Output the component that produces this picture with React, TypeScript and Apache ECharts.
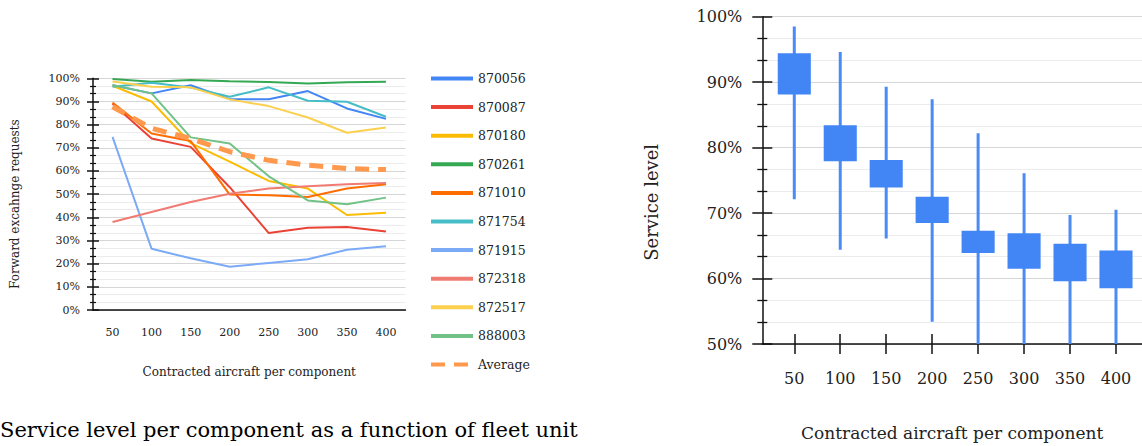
import React, { useEffect, useRef } from "react";
import * as echarts from "echarts";

const fleetSizes = [50, 100, 150, 200, 250, 300, 350, 400];
const fleetLabels = fleetSizes.map(String);

const componentNames = ["870056", "870087", "870180", "870261", "871010", "871754", "871915", "872318", "872517", "888003"];
const componentColors = ["#4285F4", "#EA4335", "#FBBC04", "#34A853", "#FF6D01", "#46BDC6", "#7BAAF7", "#F07B72", "#FCD04F", "#71C287"];

const s870056 = [97, 93.5, 97, 91, 91, 94.5, 87, 82.5];
const s870087 = [89, 74, 70.4, 53, 33.2, 35.5, 35.8, 33.9];
const s870180 = [96.8, 90, 72, 64, 55.7, 52.4, 41, 42];
const s870261 = [99.7, 98.5, 99.3, 98.7, 98.4, 97.8, 98.3, 98.5];
const s871010 = [89.5, 76.2, 72.9, 49.8, 49.5, 48.8, 52.4, 54.3];
const s871754 = [96.4, 98.1, 96, 92, 96.1, 90.3, 89.9, 83.4];
const s871915 = [74.7, 26.4, 22.3, 18.7, 20.3, 21.9, 26, 27.5];
const s872318 = [38, 42.3, 46.6, 50.2, 52.4, 53.4, 54.3, 54.8];
const s872517 = [98.6, 96.4, 96.1, 90.9, 88, 83.1, 76.5, 78.8];
const s888003 = [97.1, 93.5, 74.5, 71.9, 57.7, 47.3, 45.6, 48.5];
const averageName = "Average";
const averageColor = "#FF994D";
const average = [87.7, 78.4, 74, 68.3, 64.6, 62.5, 61, 60.6];

const componentSeries = [s870056, s870087, s870180, s870261, s871010, s871754, s871915, s872318, s872517, s888003];

const boxLow = [72.1, 64.4, 66.1, 53.4, 50, 50, 50, 50];
const boxQ1 = [88.1, 77.9, 73.9, 68.5, 63.9, 61.5, 59.6, 58.5];
const boxQ3 = [94.4, 83.4, 78.1, 72.5, 67.3, 66.9, 65.3, 64.3];
const boxHigh = [98.5, 94.6, 89.3, 87.4, 82.2, 76.1, 69.7, 70.5];

const leftYName = "Forward excahnge requests";
const rightYName = "Service level";
const xName = "Contracted aircraft per component";
const caption = "Service level per component as a function of fleet unit";

const FONT = "DejaVu Serif";

export default function App() {
  const ref = useRef<HTMLDivElement>(null);
  useEffect(() => {
    if (!ref.current) return;
    const chart = echarts.init(ref.current, undefined, { renderer: "svg" });
    const axisLineStyle = { color: "#111", width: 1.5 };
    const tickLine = { color: "#111", width: 1.5 };
    const splitLine = { show: true, lineStyle: { color: "#d6d6d6", width: 1 } };
    const minorSplitLine = { show: true, lineStyle: { color: "#ececec", width: 1 } };

    const lineSeries: any[] = componentNames.map((name, i) => ({
      name,
      type: "line",
      xAxisIndex: 0,
      yAxisIndex: 0,
      data: componentSeries[i],
      symbol: "none",
      lineStyle: { width: 2, color: componentColors[i] },
      itemStyle: { color: componentColors[i] },
    }));
    lineSeries.push({
      name: averageName,
      type: "line",
      xAxisIndex: 0,
      yAxisIndex: 0,
      data: average,
      symbol: "none",
      z: 3,
      lineStyle: { width: 5, color: averageColor, type: [14, 9] },
      itemStyle: { color: averageColor },
    });

    const boxData = fleetSizes.map((x, i) => [x, boxLow[i], boxQ1[i], boxQ3[i], boxHigh[i]]);

    const option: any = {
      animation: false,
      textStyle: { fontFamily: FONT },
      grid: [
        { left: 93, top: 78.3, width: 312.5, height: 231.7 },
        { left: 762.3, top: 16.7, width: 380, height: 329 },
      ],
      legend: {
        orient: "vertical",
        left: 424,
        top: 67,
        itemWidth: 42,
        itemHeight: 14,
        itemGap: 15.6,
        lineStyle: { width: 4 },
        itemStyle: { opacity: 0 },
        textStyle: { fontFamily: FONT, fontSize: 12.5, color: "#222" },
        data: [...componentNames, averageName],
      },
      xAxis: [
        {
          type: "category",
          gridIndex: 0,
          position: "bottom",
          data: fleetLabels,
          boundaryGap: true,
          axisLine: { lineStyle: axisLineStyle },
          axisTick: { alignWithLabel: true, length: 9, lineStyle: tickLine },
          axisLabel: { margin: 17, fontSize: 11, color: "#222", fontFamily: FONT },
          name: xName,
          nameLocation: "middle",
          nameGap: 56,
          nameTextStyle: { fontSize: 12, color: "#222", fontFamily: FONT },
          splitLine: { show: false },
        },
        {
          type: "category",
          gridIndex: 0,
          position: "bottom",
          data: fleetLabels,
          boundaryGap: true,
          axisLine: { show: false },
          axisTick: { alignWithLabel: true, inside: true, length: 5, lineStyle: tickLine },
          axisLabel: { show: false },
          splitLine: { show: false },
        },
        {
          type: "value",
          gridIndex: 1,
          position: "bottom",
          min: 15.2,
          max: 428.3,
          axisLine: { lineStyle: axisLineStyle },
          axisTick: { show: true, length: 10, customValues: fleetSizes, lineStyle: tickLine },
          axisLabel: { show: true, customValues: fleetSizes, margin: 26, fontSize: 16, color: "#222", fontFamily: FONT },
          name: xName,
          nameLocation: "middle",
          nameGap: 80,
          nameTextStyle: { fontSize: 17, color: "#222", fontFamily: FONT },
          splitLine: { show: false },
        },
        {
          type: "value",
          gridIndex: 1,
          position: "bottom",
          min: 15.2,
          max: 428.3,
          axisLine: { show: false },
          axisTick: { show: true, inside: true, length: 10, customValues: fleetSizes, lineStyle: tickLine },
          axisLabel: { show: false },
          splitLine: { show: false },
        },
      ],
      yAxis: [
        {
          type: "value",
          gridIndex: 0,
          position: "left",
          min: 0,
          max: 100,
          interval: 10,
          axisLine: { show: true, lineStyle: axisLineStyle },
          axisTick: { show: true, length: 6, lineStyle: tickLine },
          minorTick: { show: true, splitNumber: 3, length: 3, lineStyle: { color: "#111", width: 1.2 } },
          axisLabel: { formatter: "{value}%", margin: 13, fontSize: 11, color: "#222", fontFamily: FONT },
          splitLine,
          minorSplitLine,
          name: leftYName,
          nameLocation: "middle",
          nameGap: 72,
          nameTextStyle: { fontSize: 12, color: "#222", fontFamily: FONT, padding: [0, 20, 0, 0] },
        },
        {
          type: "value",
          gridIndex: 0,
          position: "left",
          min: 0,
          max: 100,
          interval: 10,
          axisLine: { show: false },
          axisTick: { show: true, inside: true, length: 6, lineStyle: tickLine },
          minorTick: { show: true, splitNumber: 3, length: 3, lineStyle: { color: "#111", width: 1.2 } },
          axisLabel: { show: false },
          splitLine: { show: false },
        },
        {
          type: "value",
          gridIndex: 1,
          position: "left",
          min: 50,
          max: 100,
          interval: 10,
          axisLine: { show: true, lineStyle: axisLineStyle },
          axisTick: { show: true, length: 10, lineStyle: tickLine },
          minorTick: { show: true, splitNumber: 3, length: 5, lineStyle: { color: "#111", width: 1.3 } },
          axisLabel: { formatter: "{value}%", margin: 20, fontSize: 16, color: "#222", fontFamily: FONT },
          splitLine,
          minorSplitLine,
          name: rightYName,
          nameLocation: "middle",
          nameGap: 102,
          nameTextStyle: { fontSize: 18, color: "#222", fontFamily: FONT, padding: [0, 44, 0, 0] },
        },
        {
          type: "value",
          gridIndex: 1,
          position: "left",
          min: 50,
          max: 100,
          interval: 10,
          axisLine: { show: false },
          axisTick: { show: true, inside: true, length: 10, lineStyle: tickLine },
          minorTick: { show: true, splitNumber: 3, length: 5, lineStyle: { color: "#111", width: 1.3 } },
          axisLabel: { show: false },
          splitLine: { show: false },
        },
      ],
      series: [
        ...lineSeries,
        {
          type: "custom",
          name: rightYName,
          xAxisIndex: 2,
          yAxisIndex: 2,
          clip: true,
          data: boxData,
          encode: { x: 0, y: [1, 2, 3, 4] },
          renderItem: (params: any, api: any) => {
            const x = api.value(0);
            const low = api.coord([x, api.value(1)]);
            const q1 = api.coord([x, api.value(2)]);
            const q3 = api.coord([x, api.value(3)]);
            const high = api.coord([x, api.value(4)]);
            const w = api.size([36, 0])[0];
            return {
              type: "group",
              children: [
                {
                  type: "line",
                  shape: { x1: low[0], y1: low[1], x2: high[0], y2: high[1] },
                  style: { stroke: "#4A8BF5", lineWidth: 3 },
                },
                {
                  type: "rect",
                  shape: { x: q3[0] - w / 2, y: q3[1], width: w, height: q1[1] - q3[1] },
                  style: { fill: "#4285F4" },
                },
              ],
            };
          },
        },
      ],
      graphic: [
        {
          type: "text",
          left: 0,
          top: 419,
          style: { text: caption, font: '21px "DejaVu Serif"', fill: "#000" },
        },
      ],
    };
    chart.setOption(option);
    return () => chart.dispose();
  }, []);
  return <div ref={ref} style={{ position: "absolute", left: 0, top: 0, width: 1142, height: 446 }} />;
}
